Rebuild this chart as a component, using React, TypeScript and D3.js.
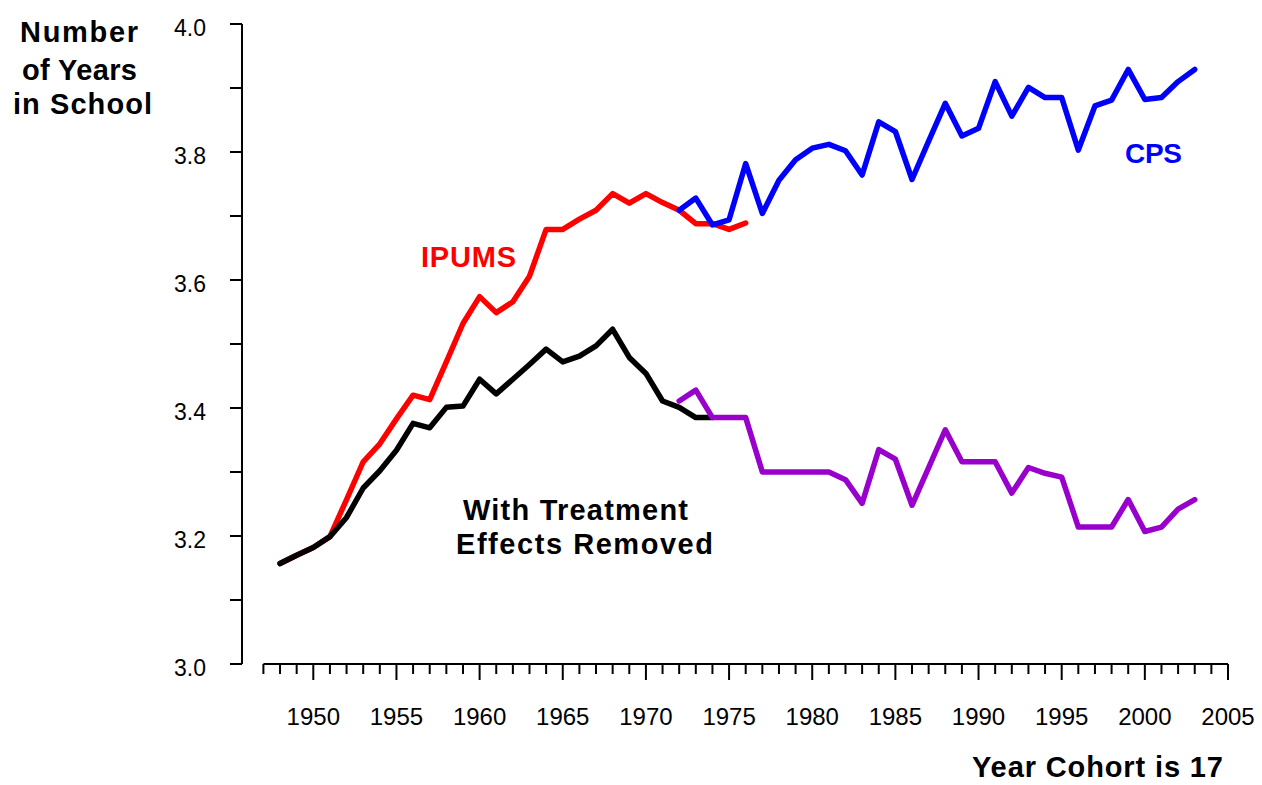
import React from "react";
import * as d3 from "d3";

const ipumsYears = d3.range(1948, 1977);
const ipumsValues = [3.157, 3.17, 3.182, 3.199, 3.257, 3.316, 3.344, 3.383, 3.42, 3.413, 3.472, 3.532, 3.574, 3.549, 3.566, 3.606, 3.679, 3.679, 3.695, 3.709, 3.735, 3.72, 3.735, 3.721, 3.709, 3.688, 3.688, 3.679, 3.689];

const removedYears = d3.range(1948, 1975);
const removedValues = [3.157, 3.17, 3.182, 3.199, 3.229, 3.275, 3.302, 3.334, 3.376, 3.369, 3.401, 3.403, 3.445, 3.422, 3.445, 3.468, 3.492, 3.472, 3.481, 3.497, 3.523, 3.479, 3.454, 3.411, 3.401, 3.385, 3.385];

const cpsYears = d3.range(1972, 2004);
const cpsValues = [3.709, 3.728, 3.686, 3.694, 3.782, 3.704, 3.756, 3.788, 3.806, 3.812, 3.802, 3.764, 3.847, 3.832, 3.757, 3.817, 3.876, 3.825, 3.837, 3.91, 3.856, 3.901, 3.885, 3.885, 3.803, 3.872, 3.881, 3.929, 3.882, 3.885, 3.91, 3.929];

const cpsRemovedYears = d3.range(1972, 2004);
const cpsRemovedValues = [3.411, 3.428, 3.385, 3.385, 3.385, 3.3, 3.3, 3.3, 3.3, 3.3, 3.288, 3.251, 3.335, 3.32, 3.248, 3.307, 3.366, 3.316, 3.316, 3.316, 3.267, 3.307, 3.298, 3.292, 3.214, 3.214, 3.214, 3.257, 3.207, 3.214, 3.242, 3.257];

const xTickLabels = [1950, 1955, 1960, 1965, 1970, 1975, 1980, 1985, 1990, 1995, 2000, 2005];
const yTickLabels = [3.0, 3.2, 3.4, 3.6, 3.8, 4.0];

const FONT = "'Liberation Sans', Arial, Helvetica, sans-serif";

export default function App() {
  const x = d3.scaleLinear().domain([1950, 2005]).range([313.3, 1228]);
  const y = d3.scaleLinear().domain([3, 4]).range([664, 24]);

  const line = d3
    .line<[number, number]>()
    .x((d) => x(d[0]))
    .y((d) => y(d[1]));

  const zip = (ys: number[], vs: number[]) => ys.map((yr, i) => [yr, vs[i]] as [number, number]);

  const series = [
    { data: zip(ipumsYears, ipumsValues), color: "#FF0000" },
    { data: zip(removedYears, removedValues), color: "#000000" },
    { data: zip(cpsYears, cpsValues), color: "#0000FF" },
    { data: zip(cpsRemovedYears, cpsRemovedValues), color: "#9900CC" },
  ];

  const xMinor = d3.range(1947, 2006);
  const yMinor = d3.range(0, 11).map((i) => 3 + i * 0.1);
  const axisX = 242;
  const axisY = 664;

  return (
    <svg
      width={1262}
      height={785}
      style={{ position: "absolute", left: 0, top: 0, background: "#fff" }}
      fontFamily={FONT}
    >
      <rect width={1262} height={785} fill="#fff" />
      {/* y axis */}
      <line x1={axisX} x2={axisX} y1={y(4)} y2={y(3)} stroke="#000" strokeWidth={2} />
      {yMinor.map((v, i) => (
        <line key={i} x1={axisX - 12} x2={axisX} y1={y(v)} y2={y(v)} stroke="#000" strokeWidth={2} />
      ))}
      {yTickLabels.map((v) => (
        <text key={v} x={206} y={y(v) + 12} textAnchor="end" fontSize={23} fill="#000">
          {v.toFixed(1)}
        </text>
      ))}
      {/* x axis */}
      <line x1={x(1947)} x2={x(2005)} y1={axisY} y2={axisY} stroke="#000" strokeWidth={2} />
      {xMinor.map((yr) => (
        <line
          key={yr}
          x1={x(yr)}
          x2={x(yr)}
          y1={axisY}
          y2={axisY + (yr % 5 === 0 ? 16 : 10)}
          stroke="#000"
          strokeWidth={2}
        />
      ))}
      {xTickLabels.map((yr) => (
        <text key={yr} x={x(yr)} y={725} textAnchor="middle" fontSize={24} fill="#000">
          {yr}
        </text>
      ))}
      {/* series */}
      {series.map((s, i) => (
        <path
          key={i}
          d={line(s.data) || ""}
          fill="none"
          stroke={s.color}
          strokeWidth={5.5}
          strokeLinejoin="round"
          strokeLinecap="round"
        />
      ))}
      {/* labels */}
      <g fontWeight="bold" fontSize={29} fill="#000" lengthAdjust="spacing">
        <text x={20} y={42} textLength={118}>Number</text>
        <text x={22} y={80} textLength={115}>of Years</text>
        <text x={13} y={114} textLength={139}>in School</text>
      </g>
      <text x={972} y={777} fontWeight="bold" fontSize={29} fill="#000" textLength={251} lengthAdjust="spacing">
        Year Cohort is 17
      </text>
      <text x={421} y={267} fontWeight="bold" fontSize={29} fill="#FF0000" textLength={95} lengthAdjust="spacing">
        IPUMS
      </text>
      <text x={1125} y={163} fontWeight="bold" fontSize={28} fill="#0000FF" textLength={57} lengthAdjust="spacing">
        CPS
      </text>
      <g fontWeight="bold" fontSize={29} fill="#000">
        <text x={463} y={520} textLength={225} lengthAdjust="spacing">With Treatment</text>
        <text x={456} y={554} textLength={257} lengthAdjust="spacing">Effects Removed</text>
      </g>
    </svg>
  );
}
